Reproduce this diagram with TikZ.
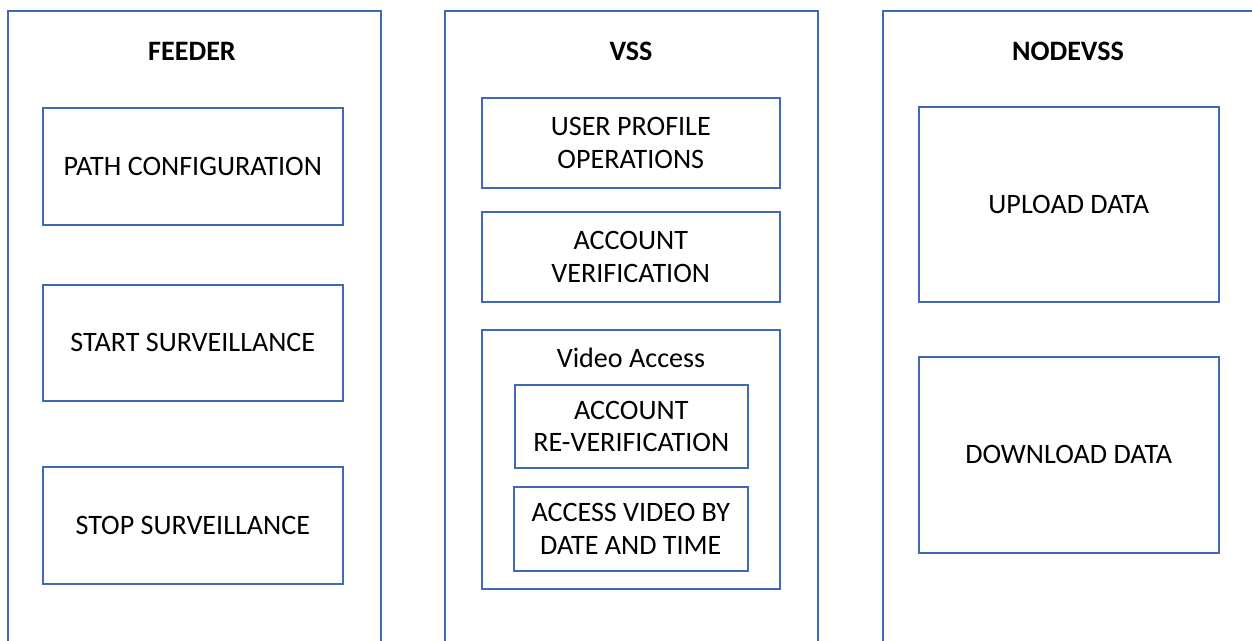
\documentclass[tikz,border=0pt]{standalone}
\usepackage{fontspec}
\setmainfont{Carlito}
\usetikzlibrary{positioning}
\definecolor{boxblue}{HTML}{4268B8}
\tikzset{
  col/.style={draw=boxblue, line width=0.9pt, anchor=north west,
              minimum width=373*0.02cm, minimum height=14cm, inner sep=0pt},
  ttl/.style={font=\fontsize{16}{18.5}\selectfont\bfseries},
  blk/.style={draw=boxblue, line width=0.9pt, align=center, anchor=north west,
              font=\fontsize{16}{18.5}\selectfont, inner sep=0pt},
  lbl/.style={font=\fontsize{16}{18.5}\selectfont, inner sep=1pt},
}
\begin{document}
\begin{tikzpicture}[x=0.02cm, y=-0.02cm]
    \useasboundingbox (0,0) rectangle (1252,641);
    \clip (0,0) rectangle (1252,641);
    % columns
    \node[col] (feeder) at (7,10) {};
    \node[col] (vss) at (444,10) {};
    \node[col] (nodevss) at (882,10) {};
    \node[ttl] (tfeeder) at (192,51) {FEEDER};
    \node[ttl] (tvss) at (631,51) {VSS};
    \node[ttl] (tnodevss) at (1068,51) {NODEVSS};
    % feeder
    \node[blk, minimum width=300*0.02cm, minimum height=117*0.02cm] (path) at (42,107) {PATH CONFIGURATION};
    \node[blk, minimum width=300*0.02cm, minimum height=116*0.02cm] (start) at (42,284) {START SURVEILLANCE};
    \node[blk, minimum width=300*0.02cm, minimum height=117*0.02cm] (stop) at (42,466) {STOP SURVEILLANCE};
    % vss
    \node[blk, minimum width=298*0.02cm, minimum height=90*0.02cm] (profile) at (481,97) {USER PROFILE\\OPERATIONS};
    \node[blk, minimum width=298*0.02cm, minimum height=90*0.02cm] (verif) at (481,211) {ACCOUNT\\VERIFICATION};
    \node[blk, minimum width=298*0.02cm, minimum height=259*0.02cm] (video) at (481,329) {};
    \node[lbl] (tvideo) at (631,358) {Video Access};
    \node[blk, minimum width=233*0.02cm, minimum height=83*0.02cm] (reverif) at (514,384) {ACCOUNT\\RE-VERIFICATION};
    \node[blk, minimum width=234*0.02cm, minimum height=84*0.02cm] (bydate) at (513,486) {ACCESS VIDEO BY\\DATE AND TIME};
    % nodevss
    \node[blk, minimum width=300*0.02cm, minimum height=195*0.02cm] (upload) at (918,106) {UPLOAD DATA};
    \node[blk, minimum width=300*0.02cm, minimum height=196*0.02cm] (download) at (918,356) {DOWNLOAD DATA};
\end{tikzpicture}
\end{document}
